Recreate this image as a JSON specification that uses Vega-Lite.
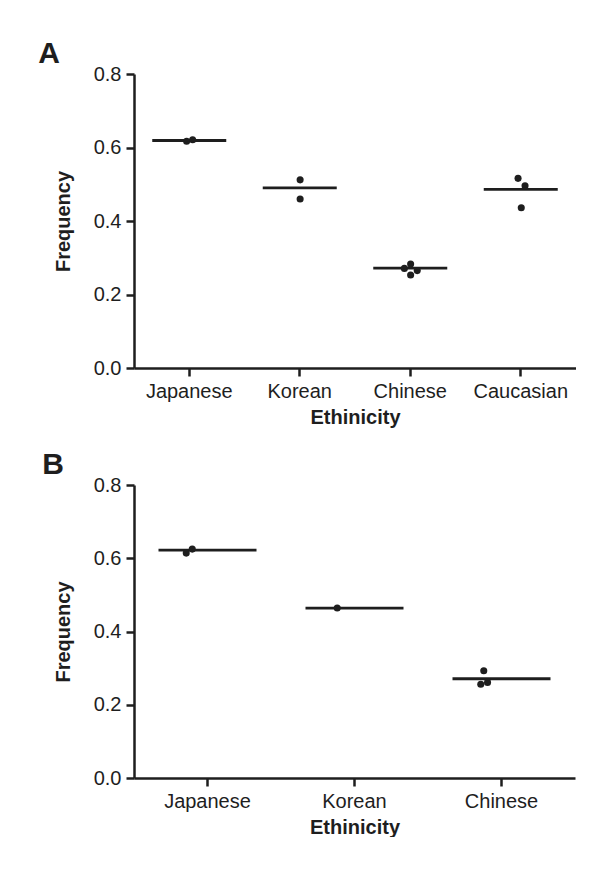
{
  "$schema": "https://vega.github.io/schema/vega-lite/v6.json",
  "padding": {"left": 38, "top": 39, "right": 0, "bottom": 0},
  "background": "white",
  "datasets": {
    "medA": [
      {"eth": "Japanese", "freq": 0.619},
      {"eth": "Korean", "freq": 0.49},
      {"eth": "Chinese", "freq": 0.272},
      {"eth": "Caucasian", "freq": 0.486}
    ],
    "ptsA": [
      {"eth": "Japanese", "freq": 0.617, "jit": -3.5},
      {"eth": "Japanese", "freq": 0.621, "jit": 4.5},
      {"eth": "Korean", "freq": 0.512, "jit": 0.5},
      {"eth": "Korean", "freq": 0.46, "jit": 0.5},
      {"eth": "Chinese", "freq": 0.271, "jit": -7.8},
      {"eth": "Chinese", "freq": 0.283, "jit": 0.5},
      {"eth": "Chinese", "freq": 0.265, "jit": 9.3},
      {"eth": "Chinese", "freq": 0.253, "jit": 0.5},
      {"eth": "Caucasian", "freq": 0.516, "jit": -3.6},
      {"eth": "Caucasian", "freq": 0.496, "jit": 5.7},
      {"eth": "Caucasian", "freq": 0.436, "jit": 0.7}
    ],
    "medB": [
      {"eth": "Japanese", "freq": 0.622},
      {"eth": "Korean", "freq": 0.464},
      {"eth": "Chinese", "freq": 0.271}
    ],
    "ptsB": [
      {"eth": "Japanese", "freq": 0.614, "jit": -4},
      {"eth": "Japanese", "freq": 0.625, "jit": 4},
      {"eth": "Korean", "freq": 0.464, "jit": 1.3},
      {"eth": "Chinese", "freq": 0.293, "jit": 0.7},
      {"eth": "Chinese", "freq": 0.256, "jit": -3.3},
      {"eth": "Chinese", "freq": 0.261, "jit": 5.7}
    ]
  },
  "vconcat": [
    {
      "width": 442,
      "height": 294,
      "title": {"text": "A", "anchor": "start", "frame": "bounds", "dx": -15, "offset": -5},
      "layer": [
        {
          "data": {"name": "medA"},
          "mark": {"type": "tick", "size": 74, "thickness": 2.8, "color": "#1e1e1e", "opacity": 1},
          "encoding": {
            "x": {"field": "eth", "type": "nominal", "sort": ["Japanese", "Korean", "Chinese", "Caucasian"], "scale": {"type": "band", "paddingInner": 0, "paddingOuter": 0}, "title": "Ethinicity"},
            "y": {"field": "freq", "type": "quantitative", "scale": {"domain": [0, 0.8], "nice": false}, "axis": {"values": [0, 0.2, 0.4, 0.6, 0.8], "format": ".1f"}, "title": "Frequency"}
          }
        },
        {
          "data": {"name": "ptsA"},
          "mark": {"type": "point", "filled": true, "size": 50, "color": "#1e1e1e", "opacity": 1},
          "encoding": {
            "x": {"field": "eth", "type": "nominal", "sort": ["Japanese", "Korean", "Chinese", "Caucasian"], "scale": {"type": "band", "paddingInner": 0, "paddingOuter": 0}, "title": "Ethinicity"},
            "xOffset": {"field": "jit", "type": "quantitative", "scale": {"domain": [-55.25, 55.25]}},
            "y": {"field": "freq", "type": "quantitative", "scale": {"domain": [0, 0.8], "nice": false}, "title": "Frequency"}
          }
        }
      ]
    },
    {
      "width": 441,
      "height": 293,
      "title": {"text": "B", "anchor": "start", "frame": "bounds", "dx": -11, "offset": -5},
      "layer": [
        {
          "data": {"name": "medB"},
          "mark": {"type": "tick", "size": 98, "thickness": 2.8, "color": "#1e1e1e", "opacity": 1},
          "encoding": {
            "x": {"field": "eth", "type": "nominal", "sort": ["Japanese", "Korean", "Chinese"], "scale": {"type": "band", "paddingInner": 0, "paddingOuter": 0}, "title": "Ethinicity"},
            "y": {"field": "freq", "type": "quantitative", "scale": {"domain": [0, 0.8], "nice": false}, "axis": {"values": [0, 0.2, 0.4, 0.6, 0.8], "format": ".1f"}, "title": "Frequency"}
          }
        },
        {
          "data": {"name": "ptsB"},
          "mark": {"type": "point", "filled": true, "size": 50, "color": "#1e1e1e", "opacity": 1},
          "encoding": {
            "x": {"field": "eth", "type": "nominal", "sort": ["Japanese", "Korean", "Chinese"], "scale": {"type": "band", "paddingInner": 0, "paddingOuter": 0}, "title": "Ethinicity"},
            "xOffset": {"field": "jit", "type": "quantitative", "scale": {"domain": [-73.5, 73.5]}},
            "y": {"field": "freq", "type": "quantitative", "scale": {"domain": [0, 0.8], "nice": false}, "title": "Frequency"}
          }
        }
      ]
    }
  ],
  "spacing": 23,
  "config": {
    "view": {"stroke": null},
    "font": "Liberation Sans",
    "title": {"font": "Liberation Sans", "fontSize": 30, "fontWeight": "bold", "color": "#1e1e1e"},
    "axis": {
      "grid": false,
      "domainColor": "#1e1e1e",
      "domainWidth": 2.5,
      "tickColor": "#1e1e1e",
      "tickWidth": 2.5,
      "tickSize": 8,
      "labelFont": "Liberation Sans",
      "labelFontSize": 20,
      "labelColor": "#1e1e1e",
      "labelPadding": 5,
      "titleFont": "Liberation Sans",
      "titleFontSize": 20,
      "titleFontWeight": "bold",
      "titleColor": "#1e1e1e"
    },
    "axisX": {"labelAngle": 0, "titlePadding": 6},
    "axisY": {"titlePadding": 20}
  }
}
